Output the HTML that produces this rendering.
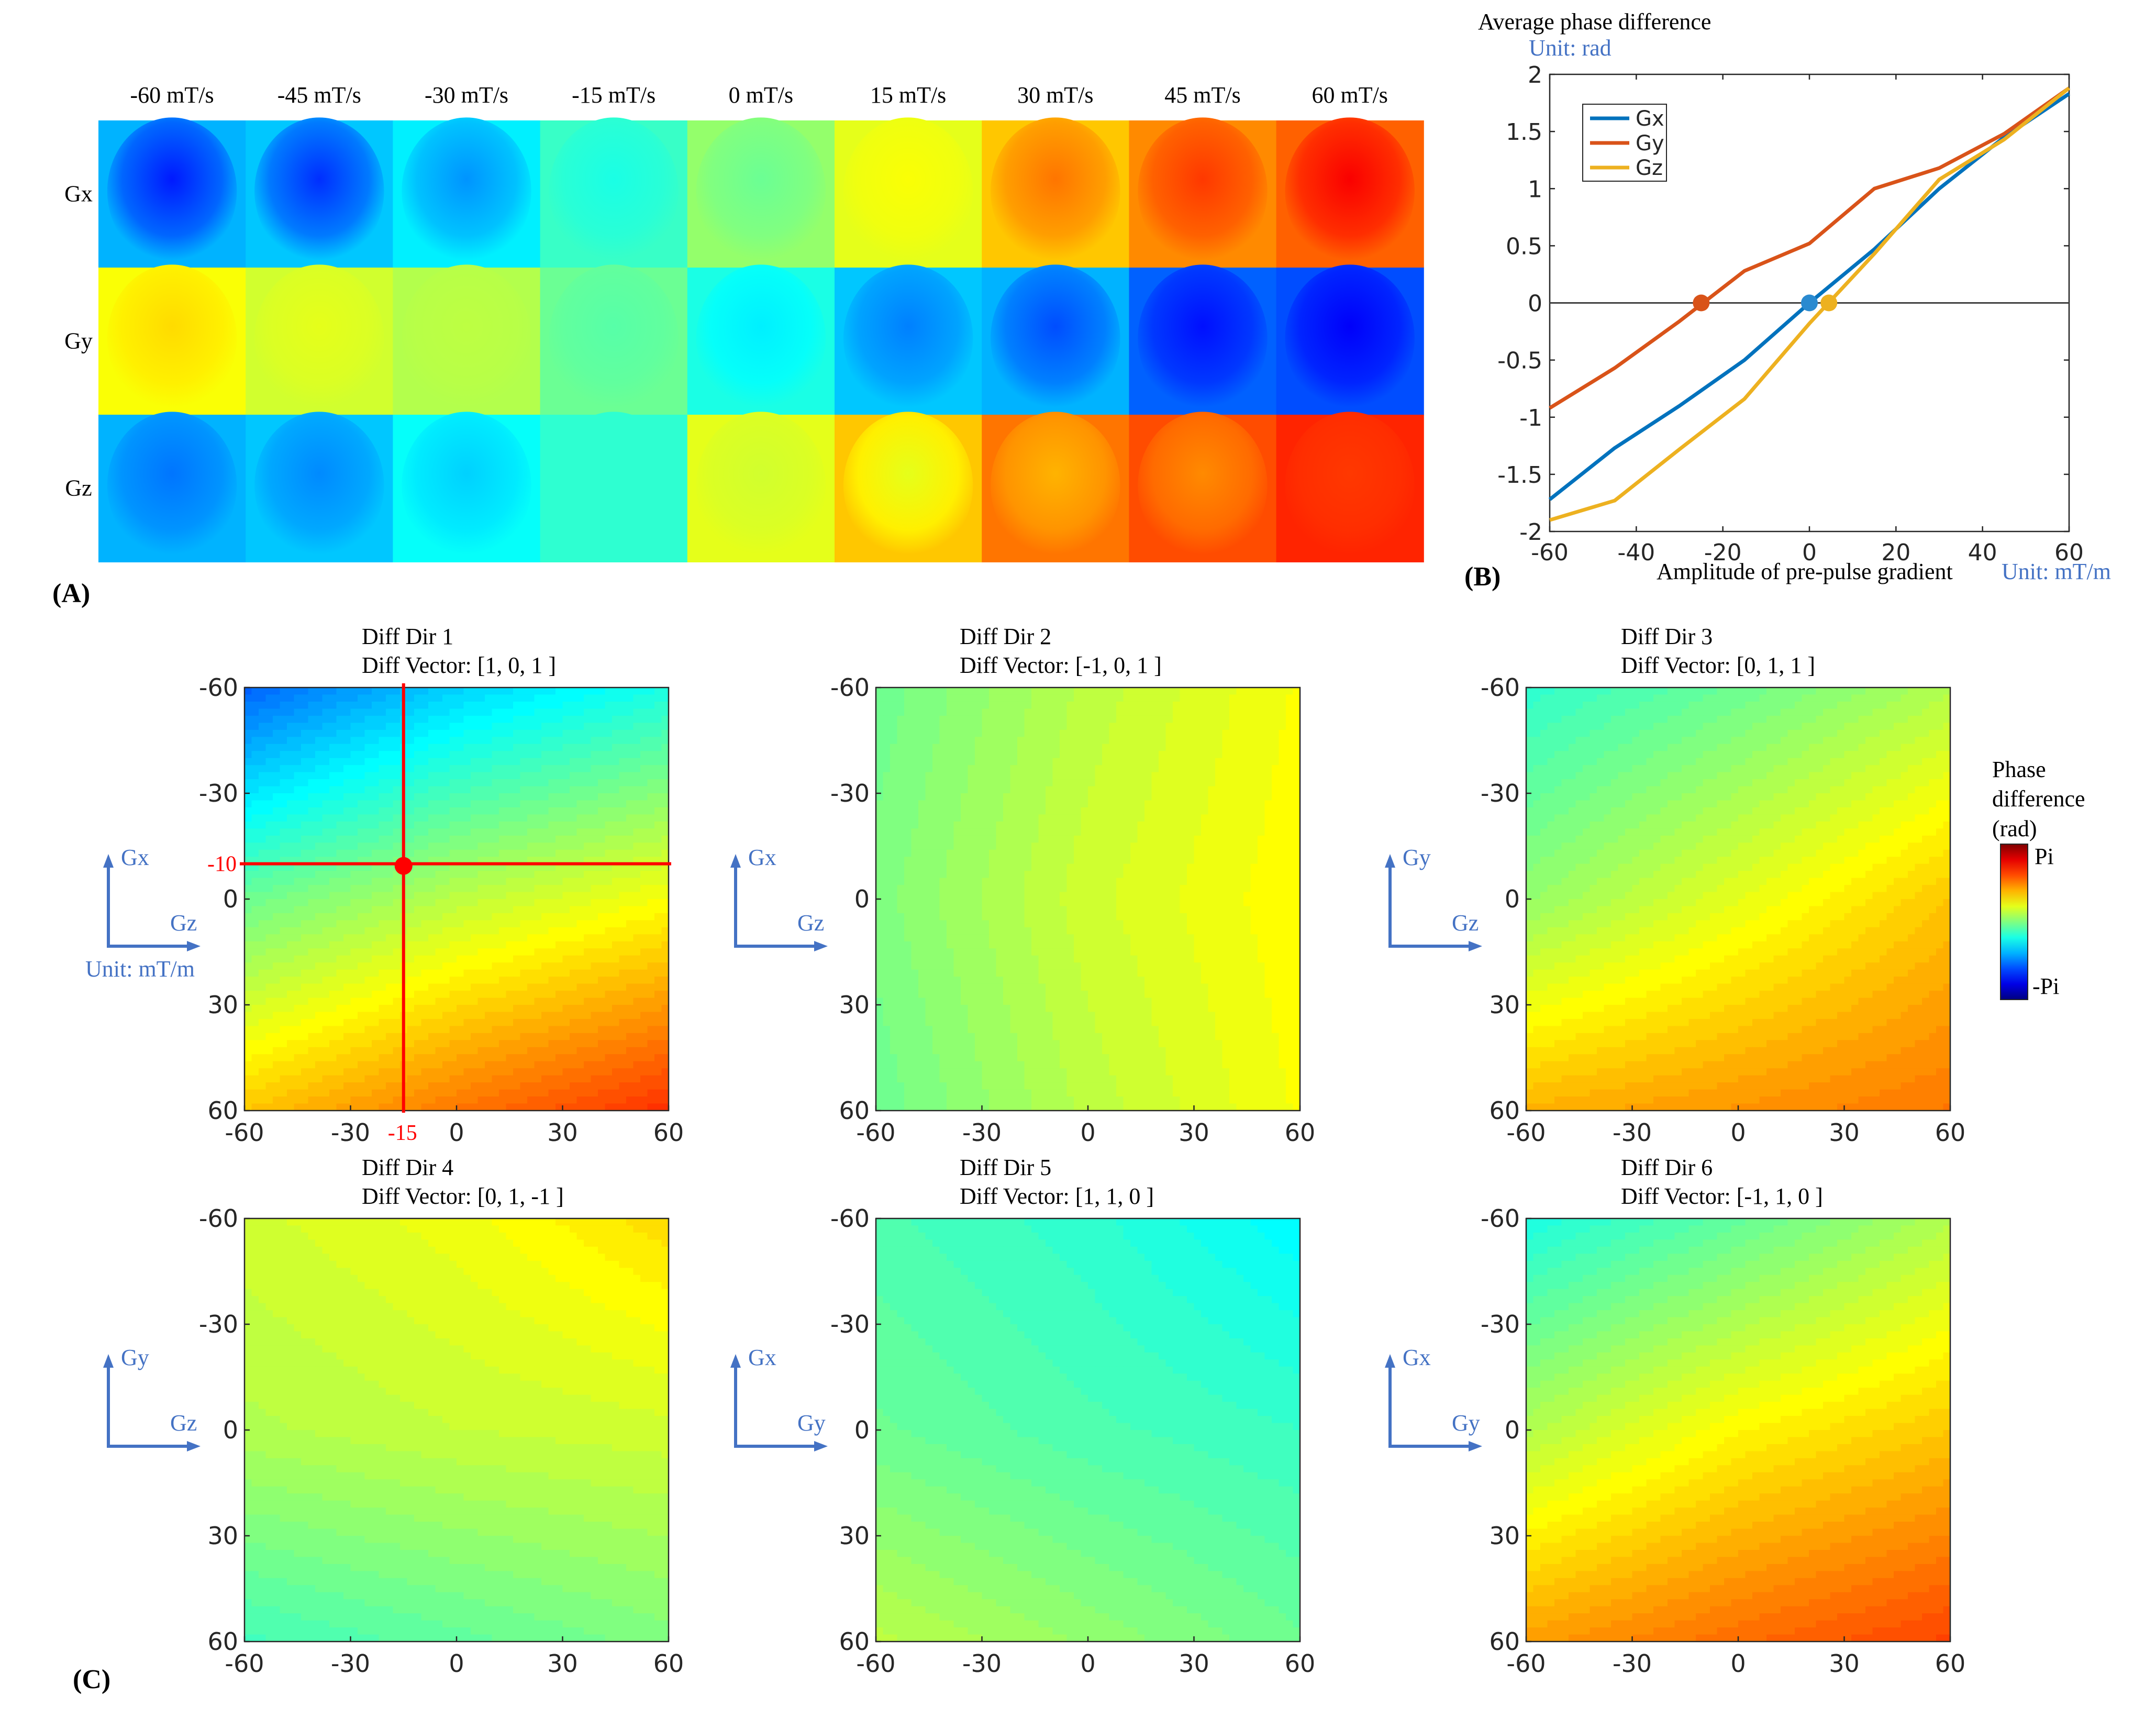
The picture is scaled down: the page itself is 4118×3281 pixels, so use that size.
<!DOCTYPE html>
<html><head><meta charset="utf-8">
<style>
html,body{margin:0;padding:0;background:#fff}
svg{display:block}
.serif{font-family:"Liberation Serif",serif}
.sans{font-family:"DejaVu Sans","Liberation Sans",sans-serif}
</style></head>
<body>
<svg id="fig" xmlns="http://www.w3.org/2000/svg" width="4118" height="3281" viewBox="0 0 4118 3281">
<defs id="defs"></defs>
</svg>
<script>
// ---------- Panel A data ----------
const aCols = ["-60 mT/s","-45 mT/s","-30 mT/s","-15 mT/s","0 mT/s","15 mT/s","30 mT/s","45 mT/s","60 mT/s"];
const aRows = ["Gx","Gy","Gz"];
const aOuterGx = [0.30,0.32,0.36,0.43,0.52,0.60,0.68,0.74,0.78];
const aInnerGx = [0.15,0.17,0.27,0.40,0.48,0.62,0.76,0.82,0.88];
const aOuterGy = [0.62,0.58,0.55,0.48,0.40,0.32,0.30,0.22,0.20];
const aInnerGy = [0.66,0.60,0.56,0.46,0.36,0.25,0.20,0.14,0.12];
const aOuterGz = [0.30,0.32,0.38,0.42,0.60,0.68,0.76,0.80,0.84];
const aInnerGz = [0.24,0.26,0.33,0.42,0.58,0.60,0.70,0.74,0.82];
// ---------- Panel B data ----------
const bX = [-60,-45,-30,-15,0,15,30,45,60];
const bGx = [-1.72,-1.27,-0.90,-0.50,0.00,0.47,1.00,1.45,1.83];
const bGy = [-0.92,-0.57,-0.16,0.28,0.52,1.00,1.18,1.48,1.88];
const bGz = [-1.90,-1.73,-1.28,-0.84,-0.18,0.43,1.08,1.43,1.88];
const bZeroX = [0,-25,4.5];
const bYTicks = [-2,-1.5,-1,-0.5,0,0.5,1,1.5,2];
const bXTicks = [-60,-40,-20,0,20,40,60];
// ---------- Panel C data (3x3 normalized phase grid, rows top->bottom) ----------
const c1 = [[0.22,0.33,0.40],[0.48,0.56,0.62],[0.68,0.76,0.83]];
const c2 = [[0.48,0.56,0.62],[0.50,0.58,0.63],[0.48,0.56,0.62]];
const c3 = [[0.42,0.48,0.55],[0.52,0.60,0.68],[0.70,0.73,0.76]];
const c4 = [[0.58,0.61,0.66],[0.55,0.57,0.58],[0.44,0.47,0.50]];
const c5 = [[0.45,0.42,0.37],[0.48,0.45,0.43],[0.56,0.52,0.48]];
const c6 = [[0.40,0.47,0.55],[0.55,0.63,0.68],[0.72,0.77,0.81]];
const cTitles = ["Diff Dir 1","Diff Dir 2","Diff Dir 3","Diff Dir 4","Diff Dir 5","Diff Dir 6"];
const cVectors = ["Diff Vector: [1, 0, 1 ]","Diff Vector: [-1, 0, 1 ]","Diff Vector: [0, 1, 1 ]","Diff Vector: [0, 1, -1 ]","Diff Vector: [1, 1, 0 ]","Diff Vector: [-1, 1, 0 ]"];
const cTicks = [-60,-30,0,30,60];
const cAxesV = ["Gx","Gx","Gy","Gy","Gx","Gx"];
const cAxesH = ["Gz","Gz","Gz","Gz","Gy","Gy"];

const NS="http://www.w3.org/2000/svg";
const svg=document.getElementById('fig');
const defs=document.getElementById('defs');
function mk(tag,attrs,parent){const e=document.createElementNS(NS,tag);for(const k in attrs)e.setAttribute(k,attrs[k]);(parent||svg).appendChild(e);return e;}
function txt(s,x,y,size,cls,fill,anchor,parent){const t=mk('text',{x:x,y:y,'font-size':size,class:cls,fill:fill||'#000','text-anchor':anchor||'start'},parent);t.textContent=s;return t;}
function jet(v){v=Math.max(0,Math.min(1,v));
 const r=Math.max(0,Math.min(1,Math.min(4*v-1.5,-4*v+4.5)));
 const g=Math.max(0,Math.min(1,Math.min(4*v-0.5,-4*v+3.5)));
 const b=Math.max(0,Math.min(1,Math.min(4*v+0.5,-4*v+2.5)));
 return 'rgb('+Math.round(r*255)+','+Math.round(g*255)+','+Math.round(b*255)+')';}

// ---------- Panel A ----------
const gA=mk('g',{});


const aX0=188,aY0=230,aW=281.2,aH=281;
const outers=[aOuterGx,aOuterGy,aOuterGz], inners=[aInnerGx,aInnerGy,aInnerGz];
aCols.forEach((c,i)=>{const t=txt(c,aX0+aW*(i+0.5),196,44,'serif','#000','middle',gA);
 
 });
aRows.forEach((r,j)=>{const t=txt(r,150,aY0+aH*(j+0.5)+14,44,'serif','#000','middle',gA);
 
 
 aCols.forEach((c,i)=>{
  const id='ga'+j+'_'+i;
  const rg=mk('radialGradient',{id:id,cx:'0.5',cy:'0.42',r:'0.55'},defs);
  mk('stop',{offset:'0','stop-color':jet(inners[j][i])},rg);
  mk('stop',{offset:'0.7','stop-color':jet((inners[j][i]+outers[j][i])/2)},rg);
  mk('stop',{offset:'1','stop-color':jet(outers[j][i])},rg);
  const x=aX0+aW*i,y=aY0+aH*j;
  const cell=mk('rect',{x:x,y:y,width:aW+1,height:aH+1,fill:jet(outers[j][i])},gA);
  
  
  mk('ellipse',{cx:x+aW/2,cy:y+aH*0.48,rx:aW*0.44,ry:aH*0.5,fill:'url(#'+id+')'},gA);
 });});
const la=txt('(A)',100,1150,52,'serif','#000','start',gA);la.setAttribute('font-weight','bold');



// ---------- Panel B ----------
const gB=mk('g',{});


const bL=2960,bR=3952,bT=142,bB=1015;
const bx=v=>bL+(v+60)/120*(bR-bL);
const by=v=>bB-(v+2)/4*(bB-bT);
mk('rect',{x:bL,y:bT,width:bR-bL,height:bB-bT,fill:'#fff',stroke:'#262626','stroke-width':2.5},gB);
bYTicks.forEach(v=>{mk('line',{x1:bL,x2:bL+10,y1:by(v),y2:by(v),stroke:'#262626','stroke-width':2.5},gB);
 mk('line',{x1:bR,x2:bR-10,y1:by(v),y2:by(v),stroke:'#262626','stroke-width':2.5},gB);
 const t=txt(String(v),bL-14,by(v)+16,44,'sans','#262626','end',gB);
 
 });
bXTicks.forEach(v=>{mk('line',{x1:bx(v),x2:bx(v),y1:bB,y2:bB-10,stroke:'#262626','stroke-width':2.5},gB);
 mk('line',{x1:bx(v),x2:bx(v),y1:bT,y2:bT+10,stroke:'#262626','stroke-width':2.5},gB);
 const t=txt(String(v),bx(v),bB+55,44,'sans','#262626','middle',gB);
 
 });
const zl=mk('line',{x1:bL,x2:bR,y1:by(0),y2:by(0),stroke:'#404040','stroke-width':3},gB);


const series=[[bGx,'#0072BD','Gx'],[bGy,'#D95319','Gy'],[bGz,'#EDB120','Gz']];
series.forEach(s=>{const p=mk('polyline',{points:bX.map((x,i)=>bx(x)+','+by(s[0][i])).join(' '),fill:'none',stroke:s[1],'stroke-width':7,'stroke-linejoin':'round'},gB);
 
 });
[[bZeroX[1],'#D95319','gy'],[bZeroX[0],'#2A8AD0','gx'],[bZeroX[2],'#EDB120','gz']].forEach(d=>{
 const c=mk('circle',{cx:bx(d[0]),cy:by(0),r:16,fill:d[1]},gB);
 
 });
const leg=mk('g',{},gB);


mk('rect',{x:3023,y:199,width:160,height:147,fill:'#fff',stroke:'#262626','stroke-width':2},leg);
series.forEach((s,i)=>{const y=226+i*47;
 mk('line',{x1:3037,x2:3112,y1:y,y2:y,stroke:s[1],'stroke-width':7},leg);
 const t=txt(s[2],3124,y+14,40,'sans','#262626','start',leg);
 
 });
let t;
t=txt('Average phase difference',2823,56,44,'serif','#000','start',gB);
t=txt('Unit: rad',2920,106,44,'serif','#4472C4','start',gB);
t=txt('Amplitude of pre-pulse gradient',3164,1106,44,'serif','#000','start',gB);
t=txt('Unit: mT/m',3823,1106,44,'serif','#4472C4','start',gB);
t=txt('(B)',2797,1118,52,'serif','#000','start',gB);t.setAttribute('font-weight','bold');

// ---------- Panel C ----------
const cData=[c1,c2,c3,c4,c5,c6];
const cXs=[467,1673,2915], cYs=[1313,2327], cW=810, cH=808;
const arrowX=[207,1405,2655], arrowY=[1807,2762];
function interp(g,u,v){
 const gx=u*2,gy=v*2;const i=Math.min(1,Math.floor(gx)),j=Math.min(1,Math.floor(gy));
 const fx=gx-i,fy=gy-j;
 const a=g[j][i]*(1-fx)+g[j][i+1]*fx, b=g[j+1][i]*(1-fx)+g[j+1][i+1]*fx;
 return a*(1-fy)+b*fy;}
cData.forEach((g,k)=>{
 const X=cXs[k%3],Y=cYs[Math.floor(k/3)];
 const gp=mk('g',{});
 
 
 const N=60,cw=cW/N,ch=cH/N;
 for(let j=0;j<N;j++)for(let i=0;i<N;i++){
  const v=Math.round(interp(g,(i+0.5)/N,(j+0.5)/N)*64)/64;
  mk('rect',{x:(X+i*cw).toFixed(2),y:(Y+j*ch).toFixed(2),width:(cw+0.8).toFixed(2),height:(ch+0.8).toFixed(2),fill:jet(v)},gp);
 }
 mk('rect',{x:X,y:Y,width:cW,height:cH,fill:'none',stroke:'#262626','stroke-width':2.5},gp);
 const tx=X+(k%3==0?224:k%3==1?160:181);
 let tt=txt(cTitles[k],tx,Y-83,44,'serif','#000','start',gp);
 
 
 tt=txt(cVectors[k],tx,Y-28,44,'serif','#000','start',gp);
 
 
 cTicks.forEach((v,i)=>{
  const yy=Y+(v+60)/120*cH, xx=X+(v+60)/120*cW;
  mk('line',{x1:X,x2:X+10,y1:yy,y2:yy,stroke:'#262626','stroke-width':2.5},gp);
  mk('line',{x1:xx,x2:xx,y1:Y+cH,y2:Y+cH-10,stroke:'#262626','stroke-width':2.5},gp);
  let a=txt(String(v),X-12,yy+16,46,'sans','#262626','end',gp);
  
  
  a=txt(String(v),xx,Y+cH+58,46,'sans','#262626','middle',gp);
  
  
 });
 const ax=arrowX[k%3], ay=arrowY[Math.floor(k/3)];
 const ar=mk('g',{});
 
 
 mk('line',{x1:ax,y1:ay+3,x2:ax,y2:ay-150,stroke:'#4472C4','stroke-width':6},ar);
 mk('polygon',{points:(ax-10)+','+(ay-150)+' '+(ax+10)+','+(ay-150)+' '+ax+','+(ay-176),fill:'#4472C4'},ar);
 mk('line',{x1:ax-3,y1:ay,x2:ax+150,y2:ay,stroke:'#4472C4','stroke-width':6},ar);
 mk('polygon',{points:(ax+150)+','+(ay-10)+' '+(ax+150)+','+(ay+10)+' '+(ax+176)+','+ay,fill:'#4472C4'},ar);
 txt(cAxesV[k],ax+24,ay-155,44,'serif','#4472C4','start',ar);
 txt(cAxesH[k],ax+118,ay-30,44,'serif','#4472C4','start',ar);
 if(k==0) txt('Unit: mT/m',ax-44,ay+58,44,'serif','#4472C4','start',ar);
});
const chx=467+(-15+60)/120*cW, chy=1313+(-10+60)/120*cH;
const cr=mk('g',{});


mk('line',{x1:chx,x2:chx,y1:1305,y2:2125,stroke:'#FF0000','stroke-width':6},cr);
mk('line',{x1:458,x2:1282,y1:chy,y2:chy,stroke:'#FF0000','stroke-width':6},cr);
mk('circle',{cx:chx,cy:chy+4,r:17,fill:'#FF0000'},cr);
txt('-10',452,chy+14,42,'serif','#FF0000','end',cr);
txt('-15',chx-2,2177,42,'serif','#FF0000','middle',cr);
const cb=mk('g',{});


const lg=mk('linearGradient',{id:'cbg',x1:'0',y1:'1',x2:'0',y2:'0'},defs);
for(let i=0;i<=10;i++)mk('stop',{offset:i/10,'stop-color':jet(i/10)},lg);
mk('rect',{x:3821,y:1612,width:52,height:297,fill:'url(#cbg)',stroke:'#262626','stroke-width':2},cb);
txt('Phase',3805,1484,44,'serif','#000','start',cb);
txt('difference',3805,1540,44,'serif','#000','start',cb);
txt('(rad)',3805,1597,44,'serif','#000','start',cb);
txt('Pi',3886,1650,44,'serif','#000','start',cb);
txt('-Pi',3882,1898,44,'serif','#000','start',cb);
t=txt('(C)',139,3224,52,'serif','#000','start');t.setAttribute('font-weight','bold');


</script>
</body></html>
